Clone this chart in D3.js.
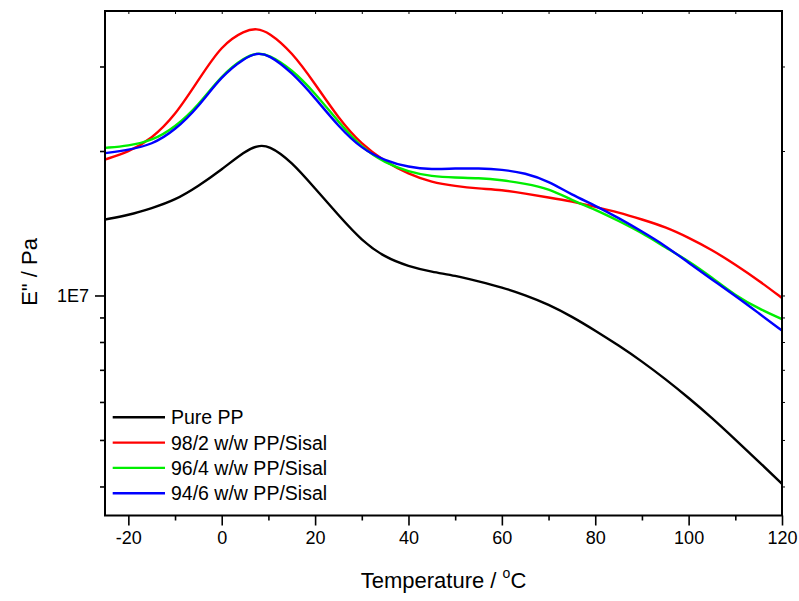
<!DOCTYPE html>
<html><head><meta charset="utf-8">
<script src="https://cdn.jsdelivr.net/npm/d3@7"></script>
<style>body{margin:0;background:#fff;} svg{display:block;font-family:"Liberation Sans",Arial,sans-serif;}</style>
</head><body>
<svg id="chart" width="799" height="601"></svg>
<script>
const temperatures = [-25,-20,-15,-10,-5,0,5,7.5,10,15,20,25,30,35,40,45,50,55,60,65,70,75,80,85,90,95,100,105,110,115,120];
const purePP = [1.44e7,1.47e7,1.52e7,1.58e7,1.69e7,1.83e7,2.00e7,2.05e7,2.06e7,1.90e7,1.67e7,1.47e7,1.30e7,1.20e7,1.15e7,1.12e7,1.10e7,1.07e7,1.04e7,1.002e7,9.58e6,9.04e6,8.45e6,7.87e6,7.29e6,6.70e6,6.12e6,5.56e6,5.01e6,4.51e6,4.05e6];
const sisal2 = [1.92e7,1.99e7,2.12e7,2.37e7,2.81e7,3.33e7,3.57e7,3.60e7,3.54e7,3.22e7,2.76e7,2.34e7,2.06e7,1.90e7,1.79e7,1.72e7,1.69e7,1.67e7,1.66e7,1.63e7,1.60e7,1.57e7,1.53e7,1.49e7,1.44e7,1.39e7,1.32e7,1.245e7,1.16e7,1.075e7,9.88e6];
const sisal4 = [2.03e7,2.05e7,2.10e7,2.24e7,2.49e7,2.88e7,3.14e7,3.20e7,3.18e7,2.96e7,2.64e7,2.30e7,2.03e7,1.89e7,1.81e7,1.77e7,1.76e7,1.757e7,1.74e7,1.71e7,1.67e7,1.58e7,1.51e7,1.43e7,1.35e7,1.26e7,1.18e7,1.09e7,1.00e7,9.39e6,8.93e6];
const sisal6 = [1.98e7,2.01e7,2.06e7,2.21e7,2.47e7,2.87e7,3.13e7,3.20e7,3.18e7,2.92e7,2.58e7,2.25e7,2.02e7,1.91e7,1.85e7,1.83e7,1.84e7,1.84e7,1.83e7,1.80e7,1.73e7,1.62e7,1.54e7,1.45e7,1.36e7,1.27e7,1.17e7,1.08e7,9.98e6,9.19e6,8.45e6];
const seriesNames = ["Pure PP","98/2 w/w PP/Sisal","96/4 w/w PP/Sisal","94/6 w/w PP/Sisal"];
const seriesColors = ["#000000","#ff0000","#00ee00","#0000ff"];
const xTicksMajor = [-20,0,20,40,60,80,100,120];
const xTicksMinor = [-10,10,30,50,70,90,110];
const yTicksMajor = [1e7];
const yTickLabels = ["1E7"];
const yTicksMinor = [4e6,5e6,6e6,7e6,8e6,9e6,2e7,3e7];
const xDomain = [-25,120];
const yDomain = [3.48e6,3.915e7];

const allSeries = [purePP, sisal2, sisal4, sisal6];
const svg = d3.select("#chart");
const m = {left:105, top:11, right:799-782, bottom:601-515.5};
const W = 799 - m.left - m.right, H = 601 - m.top - m.bottom;
const g = svg.append("g").attr("transform",`translate(${m.left},${m.top})`);
const x = d3.scaleLinear().domain(xDomain).range([0,W]);
const y = d3.scaleLog().domain(yDomain).range([H,0]);

const line = d3.line().x(d=>x(d[0])).y(d=>y(d[1])).curve(d3.curveBasis);
g.append("defs").append("clipPath").attr("id","clip").append("rect").attr("width",W).attr("height",H);
const plot = g.append("g").attr("clip-path","url(#clip)");
allSeries.forEach((s,i)=>{
  plot.append("path").datum(temperatures.map((t,j)=>[t,s[j]]))
    .attr("d",line).attr("fill","none").attr("stroke",seriesColors[i]).attr("stroke-width",2.4)
    .attr("stroke-linejoin","round");
});

const tickStyle = sel => { sel.select(".domain").remove(); sel.selectAll("line").attr("stroke","#000").attr("stroke-width",1.6); };
// bottom axis
g.append("g").attr("transform",`translate(0,${H})`)
  .call(d3.axisBottom(x).tickValues(xTicksMajor).tickSize(10).tickPadding(6).tickFormat(d=>String(d)))
  .call(tickStyle)
  .call(a=>a.selectAll("text").attr("font-size",18).attr("font-family","Liberation Sans, Arial, sans-serif").attr("fill","#000"));
g.append("g").attr("transform",`translate(0,${H})`)
  .call(d3.axisBottom(x).tickValues(xTicksMinor).tickSize(5).tickFormat(""))
  .call(tickStyle);
// top axis (small inward ticks)
g.append("g").call(d3.axisBottom(x).tickValues(xTicksMajor.concat(xTicksMinor)).tickSize(3).tickFormat(""))
  .call(tickStyle).call(a=>a.selectAll("line").attr("stroke-width",1));
// left axis
g.append("g").call(d3.axisLeft(y).tickValues(yTicksMajor).tickSize(10).tickPadding(6).tickFormat((d,i)=>yTickLabels[i]))
  .call(tickStyle)
  .call(a=>a.selectAll("text").attr("font-size",18).attr("font-family","Liberation Sans, Arial, sans-serif").attr("fill","#000"));
g.append("g").call(d3.axisLeft(y).tickValues(yTicksMinor).tickSize(5).tickFormat("")).call(tickStyle);
// right axis
g.append("g").attr("transform",`translate(${W},0)`)
  .call(d3.axisRight(y).tickValues(yTicksMajor.concat(yTicksMinor)).tickSize(3).tickFormat(""))
  .call(tickStyle).call(a=>a.selectAll("line").attr("stroke-width",1));
// frame
g.append("rect").attr("width",W).attr("height",H).attr("fill","none").attr("stroke","#000").attr("stroke-width",2);

// axis titles
const xt = svg.append("text").attr("x",m.left+W/2).attr("y",588).attr("text-anchor","middle")
  .attr("font-size",22).attr("fill","#000");
xt.append("tspan").text("Temperature / ");
xt.append("tspan").text("o").attr("font-size",14).attr("dy",-10);
xt.append("tspan").text("C").attr("dy",10);
svg.append("text").attr("transform",`translate(37,${272}) rotate(-90)`).attr("text-anchor","middle")
  .attr("font-size",22).attr("fill","#000").text('E" / Pa');

// legend
const lg = g.append("g");
seriesNames.forEach((n,i)=>{
  const yy = 417.3 - m.top + i*25.3;
  lg.append("line").attr("x1",112.7-m.left).attr("x2",165-m.left).attr("y1",yy).attr("y2",yy)
    .attr("stroke",seriesColors[i]).attr("stroke-width",2.4);
  lg.append("text").attr("x",171-m.left).attr("y",yy).attr("dy","0.36em").attr("font-size",19.5).attr("fill","#000").text(n);
});
</script>
</body></html>
